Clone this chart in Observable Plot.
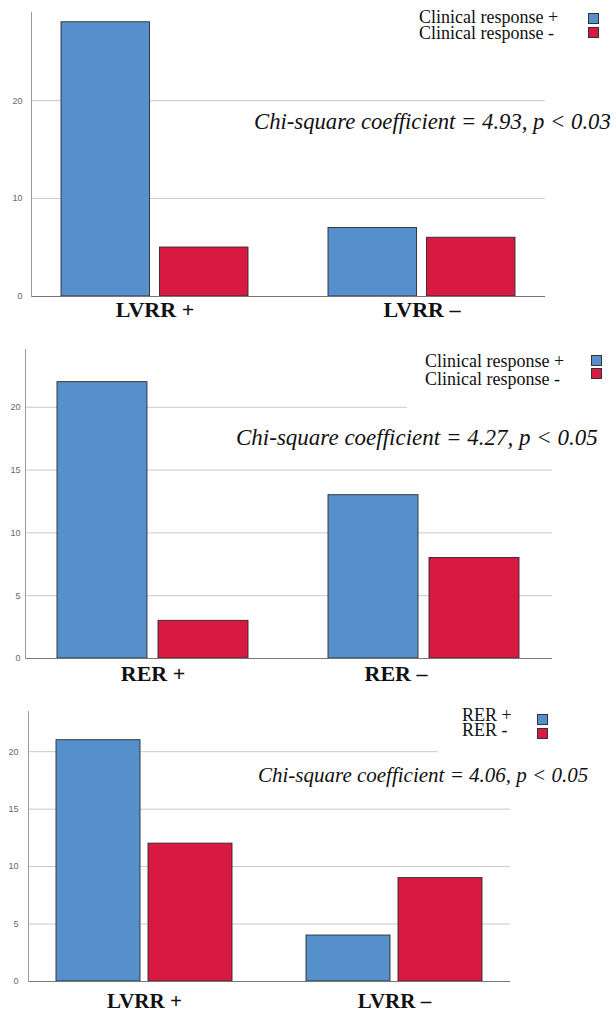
<!DOCTYPE html>
<html>
<head>
<meta charset="utf-8">
<script src="https://cdn.jsdelivr.net/npm/d3@7"></script>
<script src="https://cdn.jsdelivr.net/npm/@observablehq/plot@0.6"></script>
<style>
  html, body { margin: 0; padding: 0; background: #fff; }
  #root { position: relative; width: 616px; height: 1014px; overflow: hidden; background: #fff; }
  .panel { position: absolute; left: 0; }
  .ov { position: absolute; white-space: pre; line-height: 1; color: #111; font-family: "Liberation Serif", "DejaVu Serif", serif; }
  .chi { font-style: italic; }
  .sw { position: absolute; width: 9px; height: 9px; border: 1px solid #333; }
  .wbox { position: absolute; background: #fff; }
</style>
</head>
<body>
<div id="root"></div>
<script>
// ---------- data ----------
const p1Categories = ["LVRR +", "LVRR –"];
const p1Series = ["Clinical response +", "Clinical response -"];
const p1Plus = [28, 7];
const p1Minus = [5, 6];
const p1Ticks = [0, 10, 20];
const p1Note = "Chi-square coefficient = 4.93, p < 0.03";

const p2Categories = ["RER +", "RER –"];
const p2Series = ["Clinical response +", "Clinical response -"];
const p2Plus = [22, 13];
const p2Minus = [3, 8];
const p2Ticks = [0, 5, 10, 15, 20];
const p2Note = "Chi-square coefficient = 4.27, p < 0.05";

const p3Categories = ["LVRR +", "LVRR –"];
const p3Series = ["RER +", "RER -"];
const p3Plus = [21, 4];
const p3Minus = [12, 9];
const p3Ticks = [0, 5, 10, 15, 20];
const p3Note = "Chi-square coefficient = 4.06, p < 0.05";

const colors = ["#5590cd", "#d81a42"];

const root = document.getElementById("root");

function panel(cfg) {
  const rows = [];
  cfg.categories.forEach((c, i) => {
    rows.push({group: c, series: cfg.series[0], value: cfg.plus[i]});
    rows.push({group: c, series: cfg.series[1], value: cfg.minus[i]});
  });
  const labelMarks = cfg.categories.map((c, i) =>
    Plot.text([c], {
      x: d => d, text: d => d, frameAnchor: "bottom", lineAnchor: "top",
      dy: cfg.xtp, dx: cfg.labelDx[i],
      fontSize: cfg.xfont, fontWeight: "bold",
      fontFamily: "Liberation Serif, DejaVu Serif, serif", fill: "#111"
    })
  );
  const chart = Plot.plot({
    width: 616,
    height: cfg.height,
    marginLeft: cfg.ml, marginRight: cfg.mr, marginTop: cfg.mt, marginBottom: cfg.mb,
    style: {background: "transparent"},
    x: {domain: cfg.categories, paddingInner: cfg.pi, paddingOuter: cfg.po, axis: null},
    y: {domain: [0, cfg.ymax], axis: null},
    color: {domain: cfg.series, range: colors},
    marks: [
      Plot.gridY(cfg.ticks.filter(t => t > 0), {stroke: "#c8c8c8", strokeOpacity: 1}),
      Plot.barY(rows.filter(r => r.series === cfg.series[0]), {x: "group", y: "value", fill: "series", stroke: "#2a2a2a", strokeWidth: 0.9, insetRight: cfg.inset}),
      Plot.barY(rows.filter(r => r.series === cfg.series[1]), {x: "group", y: "value", fill: "series", stroke: "#2a2a2a", strokeWidth: 0.9, insetLeft: cfg.inset}),
      Plot.ruleY([0], {stroke: "#777", strokeWidth: 1}),
      Plot.frame({anchor: "left", stroke: "#999"}),
      Plot.axisY({ticks: cfg.ticks, tickSize: 0, tickPadding: cfg.ytp, fontSize: 9, fill: "#666", fontFamily: "Liberation Sans, Arial, sans-serif", label: null}),
      ...labelMarks
    ]
  });
  chart.classList.add("panel");
  chart.style.top = cfg.top + "px";
  root.appendChild(chart);

  if (cfg.wbox) {
    const b = document.createElement("div");
    b.className = "wbox";
    Object.assign(b.style, {left: cfg.wbox[0] + "px", top: cfg.wbox[1] + "px", width: cfg.wbox[2] + "px", height: cfg.wbox[3] + "px"});
    root.appendChild(b);
  }
  // legend: one text block, one swatch per series
  const F = cfg.legFont, L = cfg.legLine;
  const t = document.createElement("div");
  t.className = "ov";
  t.textContent = cfg.series.join("\n");
  t.style.fontSize = F + "px";
  t.style.lineHeight = L + "px";
  t.style.left = cfg.legX + "px";
  t.style.top = (cfg.legBase - ((L - 1.107 * F) / 2 + 0.891 * F)) + "px";
  root.appendChild(t);
  cfg.series.forEach((s, i) => {
    const sw = document.createElement("div");
    sw.className = "sw";
    sw.style.background = colors[i];
    sw.style.left = cfg.swX + "px";
    sw.style.top = cfg.swY[i] + "px";
    root.appendChild(sw);
  });
  // note
  const n = document.createElement("div");
  n.className = "ov chi";
  n.textContent = cfg.note;
  n.style.fontSize = cfg.noteFont + "px";
  n.style.left = cfg.noteX + "px";
  n.style.top = (cfg.noteBase - 0.84 * cfg.noteFont) + "px";
  root.appendChild(n);
}

panel({
  categories: p1Categories, series: p1Series, plus: p1Plus, minus: p1Minus, ticks: p1Ticks, note: p1Note,
  top: 0, height: 325, ml: 31, mr: 71, mt: 12, mb: 29, ymax: 29,
  pi: 0.301, po: 0.111, inset: 98.5, ytp: 9, xtp: 5, xfont: 22, labelDx: [0, 0],
  legX: 419, legBase: 23, legLine: 16, legFont: 18, swX: 588, swY: [13, 27],
  noteX: 254, noteBase: 130, noteFont: 22.7
});
panel({
  categories: p2Categories, series: p2Series, plus: p2Plus, minus: p2Minus, ticks: p2Ticks, note: p2Note,
  top: 325, height: 365, ml: 25, mr: 64, mt: 24, mb: 32, ymax: 24.6,
  pi: 0.294, po: 0.1158, inset: 101, ytp: 5, xtp: 7, xfont: 22, labelDx: [0, -28],
  wbox: [407, 345, 209, 66],
  legX: 425, legBase: 367, legLine: 18, legFont: 18, swX: 591, swY: [355, 368],
  noteX: 236, noteBase: 445, noteFont: 23
});
panel({
  categories: p3Categories, series: p3Series, plus: p3Plus, minus: p3Minus, ticks: p3Ticks, note: p3Note,
  top: 690, height: 324, ml: 28, mr: 106, mt: 21, mb: 33, ymax: 23.5,
  pi: 0.296, po: 0.112, inset: 92, ytp: 10, xtp: 12, xfont: 21, labelDx: [0, 0],
  wbox: [438, 705, 178, 50],
  legX: 462, legBase: 722, legLine: 15, legFont: 18, swX: 537, swY: [714, 728],
  noteX: 258, noteBase: 783, noteFont: 21
});
</script>
</body>
</html>
